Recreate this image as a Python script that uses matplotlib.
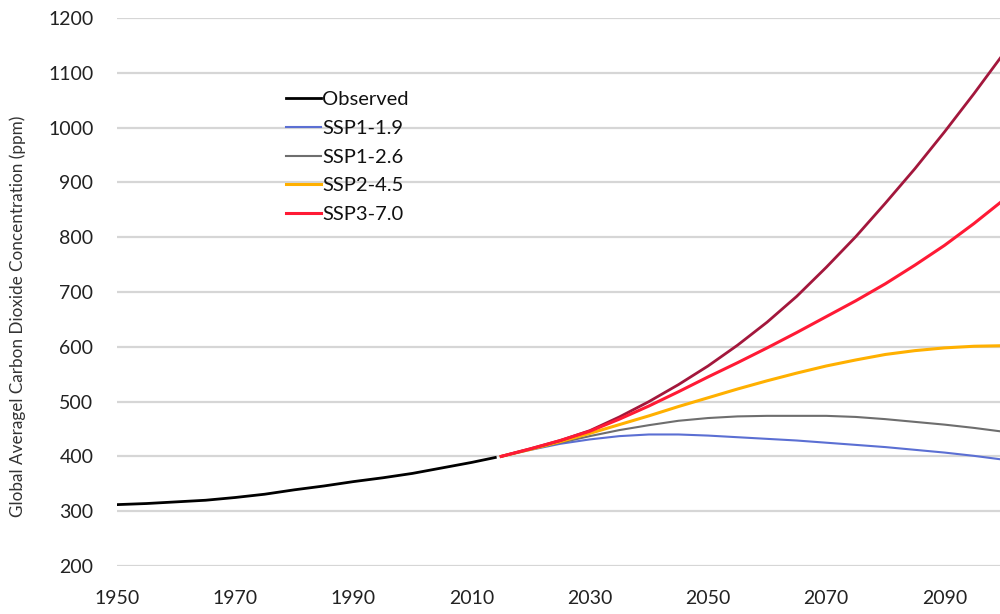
import matplotlib
matplotlib.use("Agg")
import matplotlib.pyplot as plt

plt.rcParams['font.family'] = ['Lato', 'DejaVu Sans']

obs_years = [1950, 1955, 1960, 1965, 1970, 1975, 1980, 1985, 1990, 1995, 2000, 2005, 2010, 2014]
obs_vals = [312, 314, 317, 320, 325, 331, 339, 346, 354, 361, 369, 379, 389, 398]

proj_years = [2015, 2020, 2025, 2030, 2035, 2040, 2045, 2050, 2055, 2060,
              2065, 2070, 2075, 2080, 2085, 2090, 2095, 2100]
ssp119 = [400, 412, 423, 431, 437, 440, 440, 438, 435, 432, 429, 425, 421, 417, 412, 407, 401, 394]
ssp126 = [400, 413, 425, 437, 448, 457, 465, 470, 473, 474, 474, 474, 472, 468, 463, 458, 452, 445]
ssp245 = [400, 413, 427, 442, 458, 474, 491, 507, 523, 538, 552, 565, 576, 586, 593, 598, 601, 602]
ssp370 = [400, 414, 429, 446, 468, 492, 518, 545, 571, 598, 626, 655, 684, 715, 749, 785, 825, 868]
ssp585 = [400, 414, 429, 447, 472, 500, 531, 565, 603, 645, 692, 745, 801, 862, 925, 992, 1062, 1135]

x_ticks = [1950, 1970, 1990, 2010, 2030, 2050, 2070, 2090]
y_ticks = [200, 300, 400, 500, 600, 700, 800, 900, 1000, 1100, 1200]

fig = plt.figure(figsize=(10, 6.14), dpi=100)
ax = fig.add_axes([0.117, 1 - 566 / 614, 0.883, (566 - 18) / 614])

ax.plot(obs_years, obs_vals, color='#000000', lw=2.0, label='Observed', zorder=6)
ax.plot(proj_years, ssp119, color='#5b6fd3', lw=1.5, label='SSP1-1.9', zorder=3)
ax.plot(proj_years, ssp126, color='#6e6e6e', lw=1.5, label='SSP1-2.6', zorder=3)
ax.plot(proj_years, ssp245, color='#ffb000', lw=2.2, label='SSP2-4.5', zorder=4)
ax.plot(proj_years, ssp585, color='#a3173c', lw=2.0, label='_SSP5-8.5', zorder=4)
ax.plot(proj_years, ssp370, color='#ff1a35', lw=2.2, label='SSP3-7.0', zorder=5)

ax.set_xlim(1950, 2099.4)
ax.set_ylim(200, 1200)
ax.set_xticks(x_ticks)
ax.set_yticks(y_ticks)
ax.tick_params(axis='both', length=0, labelsize=14, colors='#222222')
ax.tick_params(axis='y', pad=17)
ax.tick_params(axis='x', pad=17)
for s in ax.spines.values():
    s.set_visible(False)
ax.grid(axis='y', color='#d6d6d6', lw=1.6)
ax.set_axisbelow(True)

fig.text(0.018, 0.485, 'Global Averagel Carbon Dioxide Concentration (ppm)',
         rotation=90, ha='center', va='center', fontsize=12.3, color='#333333')

leg = ax.legend(loc='upper left', bbox_to_anchor=(286 / 1000, 1 - 91 / 614),
                bbox_transform=fig.transFigure, frameon=False, fontsize=14.5,
                handlelength=1.75, handletextpad=0.05, labelspacing=0.58,
                borderpad=0, borderaxespad=0)
for t in leg.get_texts():
    t.set_color('#111111')

fig.savefig('out.png', dpi=100, facecolor='white')
